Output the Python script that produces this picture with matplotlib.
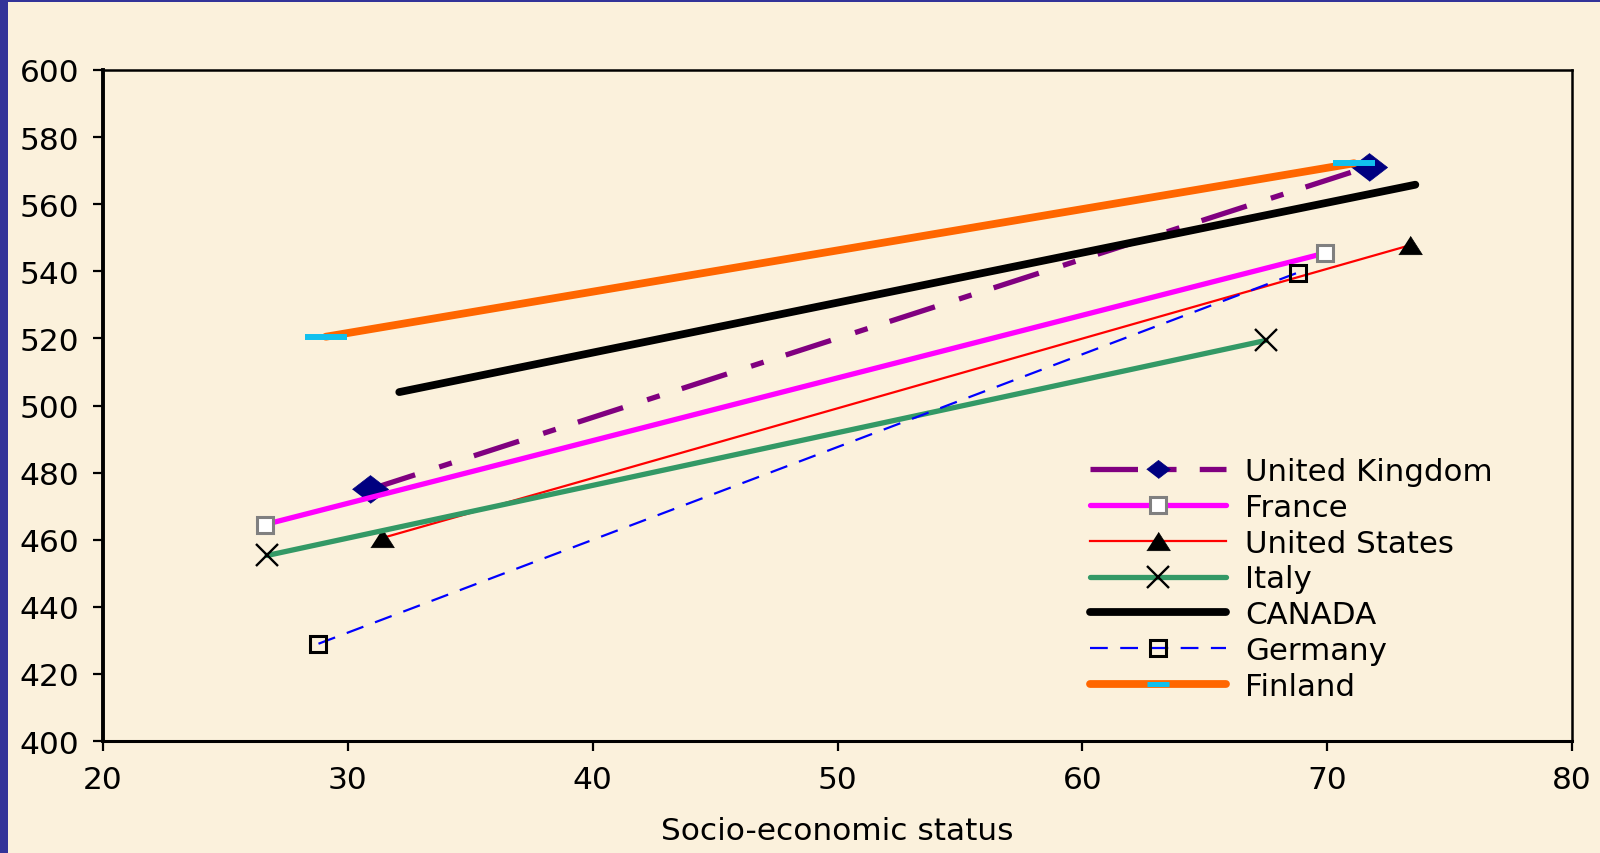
import matplotlib.pyplot as plt
from matplotlib.patches import Rectangle

countries = ["United Kingdom", "France", "United States", "Italy", "CANADA", "Germany", "Finland"]
ses_low = [30.9, 26.6, 31.4, 26.7, 32.1, 28.8, 29.1]
ses_high = [71.7, 69.9, 73.4, 67.5, 73.6, 68.8, 71.1]
score_low = [475.0, 464.5, 460.5, 455.3, 504.0, 429.0, 520.5]
score_high = [571.2, 545.4, 547.8, 519.4, 565.8, 539.6, 572.2]

bg = "#FBF1DC"
diamond = [(-1, 0), (0, 0.77), (1, 0), (0, -0.77)]
triangle = [(-1, -0.78), (1, -0.78), (0, 0.78)]

styles = [
    dict(color="#800080", lw=3.8, dashes=(9.0, 4.8, 2.5, 4.4), marker=diamond, ms=26,
         mfc="#000080", mec="#000080", mew=0.5),
    dict(color="#FF00FF", lw=3.8, marker="s", ms=11.5, mfc="white", mec="#808080", mew=2.2,
         solid_capstyle="round"),
    dict(color="#FF0000", lw=1.6, marker=triangle, ms=17, mfc="black", mec="black", mew=0.5),
    dict(color="#339966", lw=3.8, marker="x", ms=15.5, mec="black", mew=1.7,
         solid_capstyle="round"),
    dict(color="black", lw=5.6, solid_capstyle="round"),
    dict(color="#0000FF", lw=1.6, dashes=(8.0, 5.6), marker="s", ms=11.5, mfc="none",
         mec="black", mew=2.2),
    dict(color="#FF6600", lw=5.6, marker="_", ms=30, mec="#11C0EE", mew=4.3,
         solid_capstyle="round"),
]

fig = plt.figure(figsize=(16, 8.54), dpi=100, facecolor=bg)
ax = fig.add_axes([0.0644, 0.1311, 0.9181, 0.7858])
ax.set_facecolor(bg)

for name, x0, x1, y0, y1, st in zip(countries, ses_low, ses_high, score_low, score_high, styles):
    ax.plot([x0, x1], [y0, y1], label=name, **st)

ax.set_xlim(20, 80)
ax.set_ylim(400, 600)
ax.set_xticks(range(20, 81, 10))
ax.set_yticks(range(400, 601, 20))
ax.tick_params(direction="out", length=7, width=1.6, labelsize=22.5, colors="black")
ax.tick_params(axis="x", pad=10)
ax.tick_params(axis="y", pad=10)
ax.spines["left"].set_linewidth(2.8)
ax.spines["bottom"].set_linewidth(2.2)
ax.spines["top"].set_linewidth(1.8)
ax.spines["right"].set_linewidth(1.8)
ax.set_xlabel("Socio-economic status", fontsize=22.5, labelpad=16)

leg = ax.legend(loc="upper left", bbox_to_anchor=(1090 / 1600, 1 - 458 / 854),
                bbox_transform=fig.transFigure, frameon=False, fontsize=22.2,
                handlelength=4.4, handletextpad=0.62, labelspacing=0.22,
                borderpad=0, borderaxespad=0)
for line in leg.get_lines():
    if line.get_label() == "United Kingdom":
        line.set_markersize(17)
    elif line.get_label() == "Finland":
        line.set_markersize(16)
        line.set_markeredgewidth(3.6)

# blue slide frame
fig.add_artist(Rectangle((0, 0), 8 / 1600, 1, transform=fig.transFigure,
                         fc="#333399", ec="none", zorder=11))
fig.add_artist(Rectangle((0, 1 - 3 / 854), 1, 3 / 854, transform=fig.transFigure,
                         fc="#333399", ec="none", zorder=11))

fig.savefig("out.png", dpi=100, facecolor=bg)
